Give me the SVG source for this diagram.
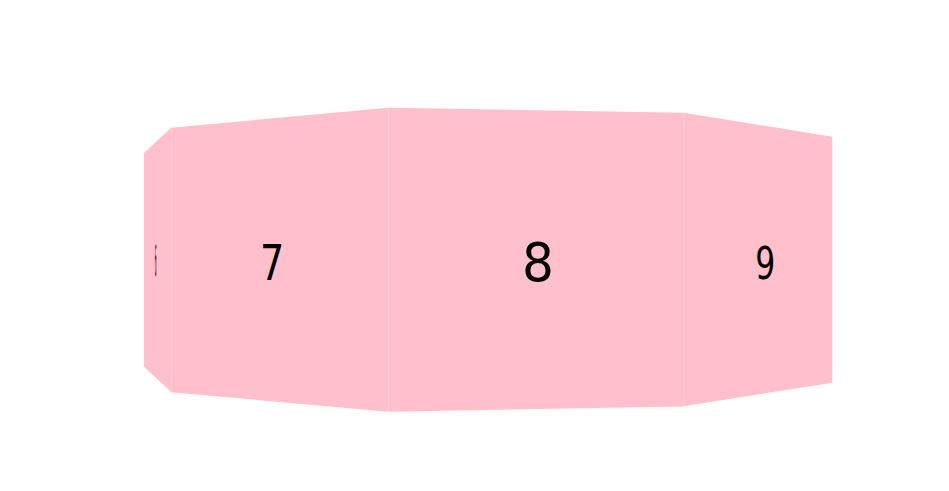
<svg xmlns="http://www.w3.org/2000/svg" width="949" height="491" viewBox="0 0 949 491">
<style>
.panel{fill:#ffc0cb;}
.seam{stroke:#ffd3da;stroke-width:0.6;fill:none;}
.num{font-family:"DejaVu Sans",sans-serif;fill:#000;text-anchor:middle;}
</style>
<rect width="949" height="491" fill="#fff"/>
<g id="panel6">
<polygon class="panel" points="144,153 171.5,127.5 171.5,392.3 144,366.7"/>
<text class="num" transform="translate(155.7,276) scale(0.07,1)" font-size="42">6</text>
</g>
<g id="panel7">
<polygon class="panel" points="171,127.7 388.7,107.7 388.7,411.7 171,392.3"/>
<text class="num" transform="translate(272.2,279.5) scale(0.78,1)" font-size="49">7</text>
</g>
<g id="panel8">
<polygon class="panel" points="388.3,107.7 684,112.7 684,406.5 388.3,411.7"/>
<text class="num" transform="translate(538,281) scale(0.93,1)" font-size="54">8</text>
</g>
<g id="panel9">
<polygon class="panel" points="683.5,112.7 832.3,136.7 832.3,382.7 683.5,406.3"/>
<text class="num" transform="translate(765.3,278.5) scale(0.7,1)" font-size="45">9</text>
</g>
<g id="connectors">
<line class="seam" x1="171.5" y1="128" x2="171.5" y2="392"/>
<line class="seam" x1="388.5" y1="108" x2="388.5" y2="411.5"/>
<line class="seam" x1="683.8" y1="113" x2="683.8" y2="406.3"/>
</g>
</svg>
